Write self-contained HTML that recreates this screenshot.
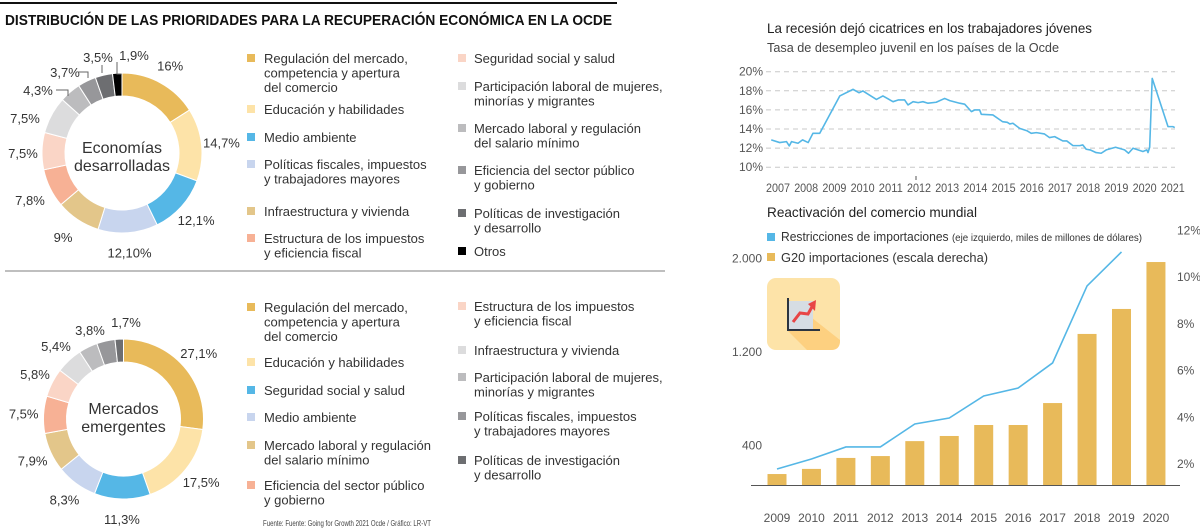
<!DOCTYPE html>
<html><head><meta charset="utf-8">
<style>
html,body{margin:0;padding:0;background:#fff;}
svg{display:block;font-family:"Liberation Sans",sans-serif;}
</style></head>
<body>
<svg id="root" width="1200" height="531" viewBox="0 0 1200 531" xmlns="http://www.w3.org/2000/svg">
  <line x1="0" y1="3" x2="617" y2="3" stroke="#111" stroke-width="2"/>
  <text x="5" y="25" font-size="15" font-weight="bold" fill="#111" textLength="607" lengthAdjust="spacingAndGlyphs">DISTRIBUCIÓN DE LAS PRIORIDADES PARA LA RECUPERACIÓN ECONÓMICA EN LA OCDE</text>
  <line x1="5" y1="271" x2="665" y2="271" stroke="#aaa" stroke-width="1.5"/>
  <g id="donut1"></g>
  <g id="donut2"></g>
  <g id="legend1"></g>
  <g id="legend2"></g>
  <text x="263" y="526" font-size="8.5" fill="#444" textLength="168" lengthAdjust="spacingAndGlyphs">Fuente: Fuente: Going for Growth 2021 Ocde  / Gráfico: LR-VT</text>

  <text x="767" y="33" font-size="14" fill="#222" textLength="325" lengthAdjust="spacingAndGlyphs">La recesión dejó cicatrices en los trabajadores jóvenes</text>
  <text x="767" y="52" font-size="13" fill="#444" textLength="292" lengthAdjust="spacingAndGlyphs">Tasa de desempleo juvenil en los países de la Ocde</text>
  <g id="linechart"></g>

  <text x="767" y="217" font-size="14" fill="#222" textLength="210" lengthAdjust="spacingAndGlyphs">Reactivación del comercio mundial</text>
  <rect x="767" y="233" width="8" height="8" fill="#55b7e6"/>
  <text x="781" y="241" font-size="13" fill="#333" textLength="361" lengthAdjust="spacingAndGlyphs">Restricciones de importaciones <tspan font-size="10.5">(eje izquierdo, miles de millones de dólares)</tspan></text>
  <rect x="767" y="253" width="8" height="8" fill="#e8ba5a"/>
  <text x="781" y="262" font-size="13" fill="#333" textLength="207" lengthAdjust="spacingAndGlyphs">G20 importaciones (escala derecha)</text>

  <g>
    <rect x="767" y="278" width="73" height="72" rx="9" fill="#fde3a8"/>
    <path d="M788 299 L840 340 L840 341 Q840 350 831 350 L807 350 L788 331 Z" fill="#fdd080"/>
    <rect x="789" y="301" width="24" height="28" fill="#d6dde3"/>
    <polyline points="793,322 800,313 808,314 813,305" fill="none" stroke="#e84545" stroke-width="3"/>
    <polygon points="816,300 815,311 808,304" fill="#e84545"/>
    <polyline points="788,298 788,330 820,330" fill="none" stroke="#2b3440" stroke-width="2"/>
  </g>
  <g id="barchart"></g>
</svg>
<script>
// ---------- donut data ----------
const devLabels = ["16%","14,7%","12,1%","12,10%","9%","7,8%","7,5%","7,5%","4,3%","3,7%","3,5%","1,9%"];
const devValues = [16,14.7,12.1,12.1,9,7.8,7.5,7.5,4.3,3.7,3.5,1.9];
const devColors = ["#e8ba5a","#fde3a8","#55b7e6","#c8d5ee","#e3c68a","#f7b195","#fad5c6","#dcdcdd","#bcbcbe","#97979a","#6d6e71","#000000"];
const emgLabels = ["27,1%","17,5%","11,3%","8,3%","7,9%","7,5%","5,8%","5,4%","3,8%","","1,7%"];
const emgValues = [27.1,17.5,11.3,8.3,7.9,7.5,5.8,5.4,3.8,3.7,1.7];
const emgColors = ["#e8ba5a","#fde3a8","#55b7e6","#c8d5ee","#e3c68a","#f7b195","#fad5c6","#dcdcdd","#bcbcbe","#97979a","#6d6e71"];

// ---------- line chart data ----------
const lineTimes = [2006.76,2007.06,2007.3,2007.4,2007.48,2007.71,2007.87,2008.07,2008.24,2008.48,2009.19,2009.66,2009.87,2010.01,2010.49,2010.72,2011.08,2011.26,2011.49,2011.61,2011.79,2011.97,2012.14,2012.32,2012.61,2012.91,2013.09,2013.44,2013.62,2013.86,2013.98,2014.15,2014.21,2014.62,2014.96,2015.13,2015.22,2015.33,2015.57,2015.84,2015.98,2016.16,2016.45,2016.63,2016.81,2017.1,2017.24,2017.46,2017.7,2017.81,2017.93,2018.07,2018.28,2018.46,2018.64,2018.97,2019.29,2019.43,2019.59,2019.94,2020.08,2020.12,2020.18,2020.27,2020.83,2021.0,2021.07];
const lineValues = [12.86,12.58,12.68,12.23,12.68,12.51,12.86,12.58,13.55,13.55,17.46,18.15,17.8,17.98,17.1,17.46,16.86,17.04,17.04,16.52,16.86,16.76,16.86,16.7,16.8,17.2,16.97,16.7,16.6,15.82,16.0,16.0,15.54,15.47,14.77,14.7,14.53,14.6,14.07,13.8,13.55,13.62,13.48,13.1,13.2,12.75,12.75,12.26,12.26,12.33,11.88,11.81,11.53,11.46,11.81,12.09,11.81,11.46,11.99,11.64,11.81,11.53,12.09,19.3,14.25,14.25,14.15];
const lineTicks = [20,18,16,14,12,10];
const lineTickLabels = ["20%","18%","16%","14%","12%","10%"];
const lineYears = [2007,2008,2009,2010,2011,2012,2013,2014,2015,2016,2017,2018,2019,2020,2021];

// ---------- bar chart data ----------
const barYears = ["2009","2010","2011","2012","2013","2014","2015","2016","2017","2018","2019","2020"];
const g20Pct = [1.57,1.79,2.26,2.34,2.98,3.2,3.67,3.67,4.61,7.57,8.64,10.65];
const restrictions = [197,283,386,386,583,634,823,891,1106,1766,2057];
const leftTicks = [2000,1200,400];
const leftTickLabels = ["2.000","1.200","400"];
const rightTicks = [12,10,8,6,4,2];
const rightTickLabels = ["12%","10%","8%","6%","4%","2%"];

// label layout overrides (layout only)
const devLabelPos = {4:[63,242],5:[30,205],6:[23,158],7:[25,123],8:[38,95],9:[65,77],10:[98,62],11:[134,60]};
const emgLabelPos = {6:[35,379],7:[56,351],8:[90,335],10:[126,327]};

const NS = "http://www.w3.org/2000/svg";
function mk(tag, attrs, parent){ const e=document.createElementNS(NS,tag); for(const k in attrs) e.setAttribute(k,attrs[k]); parent.appendChild(e); return e; }

function arcPath(cx,cy,R,r,f0,f1){
  const a0=f0*2*Math.PI-Math.PI/2, a1=f1*2*Math.PI-Math.PI/2;
  const large=(f1-f0)>0.5?1:0;
  const p=(rad,a)=>[cx+rad*Math.cos(a),cy+rad*Math.sin(a)];
  const [x0,y0]=p(R,a0),[x1,y1]=p(R,a1),[x2,y2]=p(r,a1),[x3,y3]=p(r,a0);
  return `M${x0} ${y0} A${R} ${R} 0 ${large} 1 ${x1} ${y1} L${x2} ${y2} A${r} ${r} 0 ${large} 0 ${x3} ${y3} Z`;
}
function donut(gid,cx,cy,values,colors,labels,slug,pos){
  const g=document.getElementById(gid);
  const total=values.reduce((a,b)=>a+b,0);
  let acc=0;
  values.forEach((v,i)=>{
    const f0=acc/total, f1=(acc+v)/total; acc+=v;
    const p=mk("path",{d:arcPath(cx,cy,80,57,f0,f1),fill:colors[i],stroke:"#fff","stroke-width":"1"},g);
    
    
    if(labels[i]){
      const mid=(f0+f1)/2*2*Math.PI-Math.PI/2;
      let lx=cx+100*Math.cos(mid), ly=cy+100*Math.sin(mid)+5;
      if(pos[i]){ lx=pos[i][0]; ly=pos[i][1]; }
      const t=mk("text",{x:lx,y:ly,"font-size":"13","text-anchor":"middle",fill:"#333"},g);
      t.textContent=labels[i];
      
      
    }
  });
}
donut("donut1",122,153,devValues,devColors,devLabels,"developed",devLabelPos);
donut("donut2",123.5,419,emgValues,emgColors,emgLabels,"emerging",emgLabelPos);
(function(){
  const g1=document.getElementById("donut1");
  let t=mk("text",{x:122,y:153,"font-size":"16","text-anchor":"middle",fill:"#333"},g1); t.textContent="Economías";
   
  t=mk("text",{x:122,y:171,"font-size":"16","text-anchor":"middle",fill:"#333"},g1); t.textContent="desarrolladas";
   
  const g2=document.getElementById("donut2");
  t=mk("text",{x:123.5,y:414,"font-size":"16","text-anchor":"middle",fill:"#333"},g2); t.textContent="Mercados";
   
  t=mk("text",{x:123.5,y:432,"font-size":"16","text-anchor":"middle",fill:"#333"},g2); t.textContent="emergentes";
   
  [[[78,72],[88,72],[88,78]],[[102,65],[102,73]],[[117,62],[117,74],[121,74]],[[56,90],[68,90],[68,96]]].forEach(ps=>{
    const l=mk("polyline",{points:ps.map(p=>p.join(",")).join(" "),fill:"none",stroke:"#666","stroke-width":"1"},g1);
     
  });
})();

const leg1 = [
 [247,264,59,"#e8ba5a",["Regulación del mercado,","competencia y apertura","del comercio"]],
 [247,264,110,"#fde3a8",["Educación y habilidades"]],
 [247,264,138,"#55b7e6",["Medio ambiente"]],
 [247,264,165,"#c8d5ee",["Políticas fiscales, impuestos","y trabajadores mayores"]],
 [247,264,212,"#e3c68a",["Infraestructura y vivienda"]],
 [247,264,239,"#f7b195",["Estructura de los impuestos","y eficiencia fiscal"]],
 [458,474,59,"#fad5c6",["Seguridad social y salud"]],
 [458,474,87,"#dcdcdd",["Participación laboral de mujeres,","minorías y migrantes"]],
 [458,474,129,"#bcbcbe",["Mercado laboral y regulación","del salario mínimo"]],
 [458,474,171,"#97979a",["Eficiencia del sector público","y gobierno"]],
 [458,474,214,"#6d6e71",["Políticas de investigación","y desarrollo"]],
 [458,474,252,"#000000",["Otros"]]
];
const leg2 = [
 [247,264,308,"#e8ba5a",["Regulación del mercado,","competencia y apertura","del comercio"]],
 [247,264,363,"#fde3a8",["Educación y habilidades"]],
 [247,264,391,"#55b7e6",["Seguridad social y salud"]],
 [247,264,418,"#c8d5ee",["Medio ambiente"]],
 [247,264,446,"#e3c68a",["Mercado laboral y regulación","del salario mínimo"]],
 [247,264,486,"#f7b195",["Eficiencia del sector público","y gobierno"]],
 [458,474,307,"#fad5c6",["Estructura de los impuestos","y eficiencia fiscal"]],
 [458,474,351,"#dcdcdd",["Infraestructura y vivienda"]],
 [458,474,378,"#bcbcbe",["Participación laboral de mujeres,","minorías y migrantes"]],
 [458,474,417,"#97979a",["Políticas fiscales, impuestos","y trabajadores mayores"]],
 [458,474,461,"#6d6e71",["Políticas de investigación","y desarrollo"]]
];
function legend(gid,items,slug){
  const g=document.getElementById(gid);
  items.forEach((it,i)=>{
    const r=mk("rect",{x:it[0],y:it[2]-5,width:8,height:8,fill:it[3]},g);
    
    
    it[4].forEach((line,j)=>{
      const t=mk("text",{x:it[1],y:it[2]+4+j*14.5,"font-size":"13",fill:"#333"},g);
      t.textContent=line;
      
      
    });
  });
}
legend("legend1",leg1,"legend-developed");
legend("legend2",leg2,"legend-emerging");

(function(){
  const g=document.getElementById("linechart");
  const xS=t=>778+(t-2007)*28.2;
  const yS=v=>71.7+(20-v)*9.55;
  lineTicks.forEach((v,i)=>{
    const l=mk("line",{x1:766,y1:yS(v),x2:1175,y2:yS(v),stroke:"#c8c8c8","stroke-dasharray":"5 4","stroke-width":"1"},g);
     
    const t=mk("text",{x:763,y:yS(v)+4,"font-size":"12","text-anchor":"end",fill:"#555"},g);
    t.textContent=lineTickLabels[i];
     
  });
  lineYears.forEach(y=>{
    const t=mk("text",{x:xS(y),y:192,"font-size":"12","text-anchor":"middle",fill:"#555",textLength:"24",lengthAdjust:"spacingAndGlyphs"},g);
    t.textContent=y;
     
  });
  const tk=mk("line",{x1:xS(2012)-3,y1:176,x2:xS(2012)-3,y2:180,stroke:"#555"},g);
   
  const pts=lineTimes.map((t,i)=>xS(t)+","+yS(lineValues[i])).join(" ");
  const pl=mk("polyline",{points:pts,fill:"none",stroke:"#55b7e6","stroke-width":"1.6","stroke-linejoin":"round"},g);
   
})();

(function(){
  const g=document.getElementById("barchart");
  const xC=i=>777+i*34.45;
  const yR=v=>464-(v-2)*23.35;
  const yL=v=>492-v*0.1167;
  const base=485;
  leftTicks.forEach((v,i)=>{
    const t=mk("text",{x:762,y:yL(v)+4,"font-size":"12","text-anchor":"end",fill:"#555"},g);
    t.textContent=leftTickLabels[i];
     
  });
  rightTicks.forEach((v,i)=>{
    const t=mk("text",{x:1177,y:yR(v)+4,"font-size":"12",fill:"#555"},g);
    t.textContent=rightTickLabels[i];
     
  });
  g20Pct.forEach((v,i)=>{
    const y=yR(v);
    const r=mk("rect",{x:xC(i)-9.5,y:y,width:19,height:base-y,fill:"#e8ba5a"},g);
     
    const t=mk("text",{x:xC(i),y:522,"font-size":"12","text-anchor":"middle",fill:"#555"},g);
    t.textContent=barYears[i];
     
  });
  const ax=mk("line",{x1:751,y1:base+0.5,x2:1180,y2:base+0.5,stroke:"#555","stroke-width":"1"},g);
   
  const pts=restrictions.map((v,i)=>xC(i)+","+yL(v)).join(" ");
  const pl=mk("polyline",{points:pts,fill:"none",stroke:"#55b7e6","stroke-width":"1.6"},g);
   
})();
</script>
</body></html>
